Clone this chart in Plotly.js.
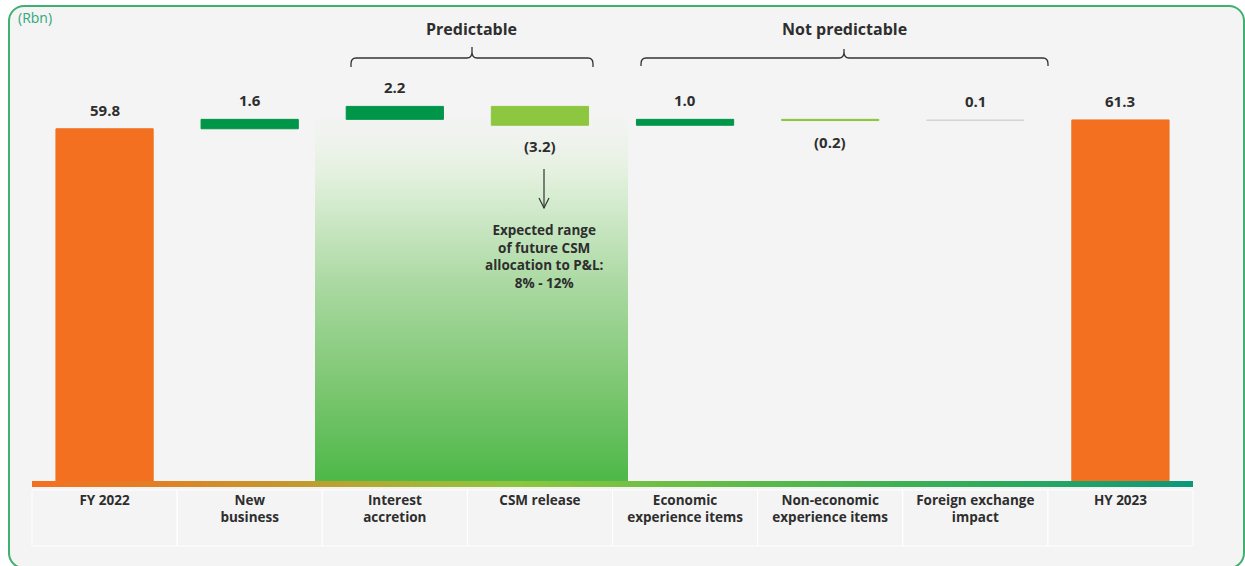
<!DOCTYPE html>
<html>
<head>
<meta charset="utf-8">
<script src="https://cdn.plot.ly/plotly-3.0.1.min.js"></script>
<style>
  html, body { margin: 0; padding: 0; background: #ffffff; }
  #wrap { position: relative; width: 1245px; height: 566px; overflow: hidden; }
  #frame { position: absolute; left: 8px; top: 5px; width: 1233px; height: 560px;
           border: 2px solid #3fb06f; border-radius: 16px; background: #f4f4f4; }
  #chart { position: absolute; left: 0; top: 0; width: 1245px; height: 566px; }
</style>
</head>
<body>
<div id="wrap">
  <div id="frame"></div>
  <div id="chart"></div>
</div>
<script>
// ---- data ----
const categories = ['FY 2022', 'New<br>business', 'Interest<br>accretion', 'CSM release',
  'Economic<br>experience items', 'Non-economic<br>experience items',
  'Foreign exchange<br>impact', 'HY 2023'];
const values = [59.8, 1.6, 2.2, -3.2, 1.0, -0.2, 0.1, 61.3];
const isTotal = [true, false, false, false, false, false, false, true];
const groupLabels = ['Predictable', 'Not predictable'];
const noteText = 'Expected range<br>of future CSM<br>allocation to P&amp;L:<br>8% - 12%';
const unitLabel = '(Rbn)';

// ---- styles ----
const ORANGE = '#f37021', DARK = '#00964a', LIGHT = '#8dc63f', GREY = '#d6d6d6';
const barColors = [ORANGE, DARK, DARK, LIGHT, DARK, LIGHT, GREY, ORANGE];
const TXT = '#2e2e2e';
const FONT = '"Open Sans", Lato, sans-serif';

// ---- waterfall geometry from values ----
const idx = categories.map((_, i) => i);
const bases = [], heights = [];
let run = 0;
values.forEach((v, i) => {
  if (isTotal[i]) { bases.push(0); heights.push(v); run = v; }
  else { bases.push(run); heights.push(v); run += v; }
});
const fmt = v => v < 0 ? '(' + Math.abs(v).toFixed(1) + ')' : v.toFixed(1);

// pixel helpers (layout decoration only)
const PX_PER_UNIT = 5.89, ZERO_PX = 481;
const yOf = py => (ZERO_PX - py) / PX_PER_UNIT;
const xOf = px => -0.5 + (px - 32) / 145.125;
const YMIN = -1.02, YMAX = 78.27;

const traces = [];

// bars
traces.push({
  type: 'bar', x: idx, y: heights, base: bases, width: 0.67,
  marker: { color: barColors, line: { color: barColors, width: 1 } },
  hoverinfo: 'skip', showlegend: false
});

// gradient base line
traces.push({
  type: 'scatter', mode: 'lines', x: [-0.5, 7.5, 7.5, -0.5, -0.5], y: [YMIN, YMIN, 0, 0, YMIN],
  line: { width: 0 }, fill: 'toself', hoverinfo: 'skip', showlegend: false,
  fillgradient: { type: 'horizontal', start: -0.5, stop: 7.5,
    colorscale: [[0, '#f37021'], [0.1, '#e27f25'], [0.22, '#c4982e'], [0.33, '#a6b436'],
                 [0.42, '#8dc63f'], [0.55, '#6dbe45'], [0.72, '#45b350'], [0.87, '#27a761'], [1, '#0b977b']] }
});

// gradient panel behind the predictable items (image layer below traces)
const pTop = yOf(97), pL = xOf(315), pR = xOf(628);
const panelSvg = '<svg xmlns="http://www.w3.org/2000/svg" width="100" height="100" viewBox="0 0 100 100" preserveAspectRatio="none">' +
  '<defs><linearGradient id="g" x1="0" y1="0" x2="0" y2="1">' +
  '<stop offset="0" stop-color="#f4f4f4" stop-opacity="0"/>' +
  '<stop offset="0.2" stop-color="#e3f1de" stop-opacity="1"/>' +
  '<stop offset="0.5" stop-color="#a8d89f"/>' +
  '<stop offset="0.76" stop-color="#7cc671"/>' +
  '<stop offset="1" stop-color="#4db848"/>' +
  '</linearGradient></defs><rect x="0" y="0" width="100" height="100" fill="url(#g)"/></svg>';
const images = [{
  source: 'data:image/svg+xml;charset=utf-8,' + encodeURIComponent(panelSvg),
  xref: 'x', yref: 'y', x: pL, y: pTop, sizex: pR - pL, sizey: pTop,
  xanchor: 'left', yanchor: 'top', sizing: 'stretch', layer: 'below'
}];

// annotations
const annotations = [];
values.forEach((v, i) => {
  const h = heights[i], b = bases[i];
  const pos = h >= 0;
  annotations.push({
    x: i, y: b + h, xref: 'x', yref: 'y', text: fmt(v), showarrow: false,
    yanchor: 'middle', yshift: pos ? 19 : -21,
    font: { family: FONT, size: 15, color: TXT, weight: 'bold' }
  });
});
annotations.push({ x: xOf(471.5), y: yOf(29), xref: 'x', yref: 'y', text: groupLabels[0], showarrow: false,
  font: { family: FONT, size: 16, color: TXT, weight: 'bold' } });
annotations.push({ x: xOf(844.5), y: yOf(29), xref: 'x', yref: 'y', text: groupLabels[1], showarrow: false,
  font: { family: FONT, size: 16, color: TXT, weight: 'bold' } });
annotations.push({ x: xOf(544), y: yOf(256.5), xref: 'x', yref: 'y', text: noteText, showarrow: false,
  font: { family: FONT, size: 13.5, color: TXT, weight: 'bold' } });
annotations.push({ x: (16 - 32) / 1161, y: (487 - 18) / 467, xref: 'paper', yref: 'paper', text: unitLabel,
  showarrow: false, xanchor: 'left', yanchor: 'middle',
  font: { family: FONT, size: 14, color: '#2fa77a' } });

// shapes: brackets, arrow, table cells
function bracket(pxL, pxR, pxC, pyH, pyEnd, pyTop) {
  const r = 0.035, ry = 1.0;
  const xl = xOf(pxL), xr = xOf(pxR), xc = xOf(pxC);
  const yh = yOf(pyH), ye = yOf(pyEnd), yt = yOf(pyTop);
  return {
    type: 'path', xref: 'x', yref: 'y', line: { color: '#333', width: 1.3 },
    path: `M${xl},${ye} L${xl},${yh - ry} Q${xl},${yh} ${xl + r},${yh} L${xc - r},${yh} Q${xc},${yh} ${xc},${yh + ry} L${xc},${yt}` +
          ` M${xc},${yh + ry} Q${xc},${yh} ${xc + r},${yh} L${xr - r},${yh} Q${xr},${yh} ${xr},${yh - ry} L${xr},${ye}`
  };
}
const shapes = [
  bracket(351, 593, 472, 58, 67, 47),
  bracket(641, 1048, 844, 58, 66, 49),
  { type: 'line', xref: 'x', yref: 'y', x0: xOf(544), x1: xOf(544), y0: yOf(169), y1: yOf(208),
    line: { color: '#333', width: 1.2 } },
  { type: 'path', xref: 'x', yref: 'y', line: { color: '#333', width: 1.2 },
    path: `M${xOf(539)},${yOf(198)} L${xOf(544)},${yOf(208)} L${xOf(549)},${yOf(198)}` }
];
for (let k = 0; k < categories.length; k++) {
  shapes.push({ type: 'rect', xref: 'paper', yref: 'paper', x0: k / 8, x1: (k + 1) / 8,
    y0: (487 - 546) / 467, y1: (487 - 490) / 467, line: { color: 'rgba(255,255,255,0.9)', width: 1 },
    fillcolor: 'rgba(0,0,0,0)', layer: 'below' });
}

const layout = {
  width: 1245, height: 566, autosize: false,
  margin: { l: 32, r: 52, t: 20, b: 79 },
  paper_bgcolor: 'rgba(0,0,0,0)', plot_bgcolor: 'rgba(0,0,0,0)',
  showlegend: false,
  xaxis: { range: [-0.5, 7.5], tickvals: idx, ticktext: categories, showgrid: false, zeroline: false,
    showline: false, ticks: '', ticklabelstandoff: 3, fixedrange: true,
    tickfont: { family: FONT, size: 13.5, color: TXT, weight: 'bold' } },
  yaxis: { range: [YMIN, YMAX], showgrid: false, zeroline: false, showticklabels: false, showline: false,
    ticks: '', fixedrange: true },
  images: images,
  annotations: annotations,
  shapes: shapes
};

Plotly.newPlot('chart', traces, layout, { displayModeBar: false, staticPlot: true });
</script>
</body>
</html>
